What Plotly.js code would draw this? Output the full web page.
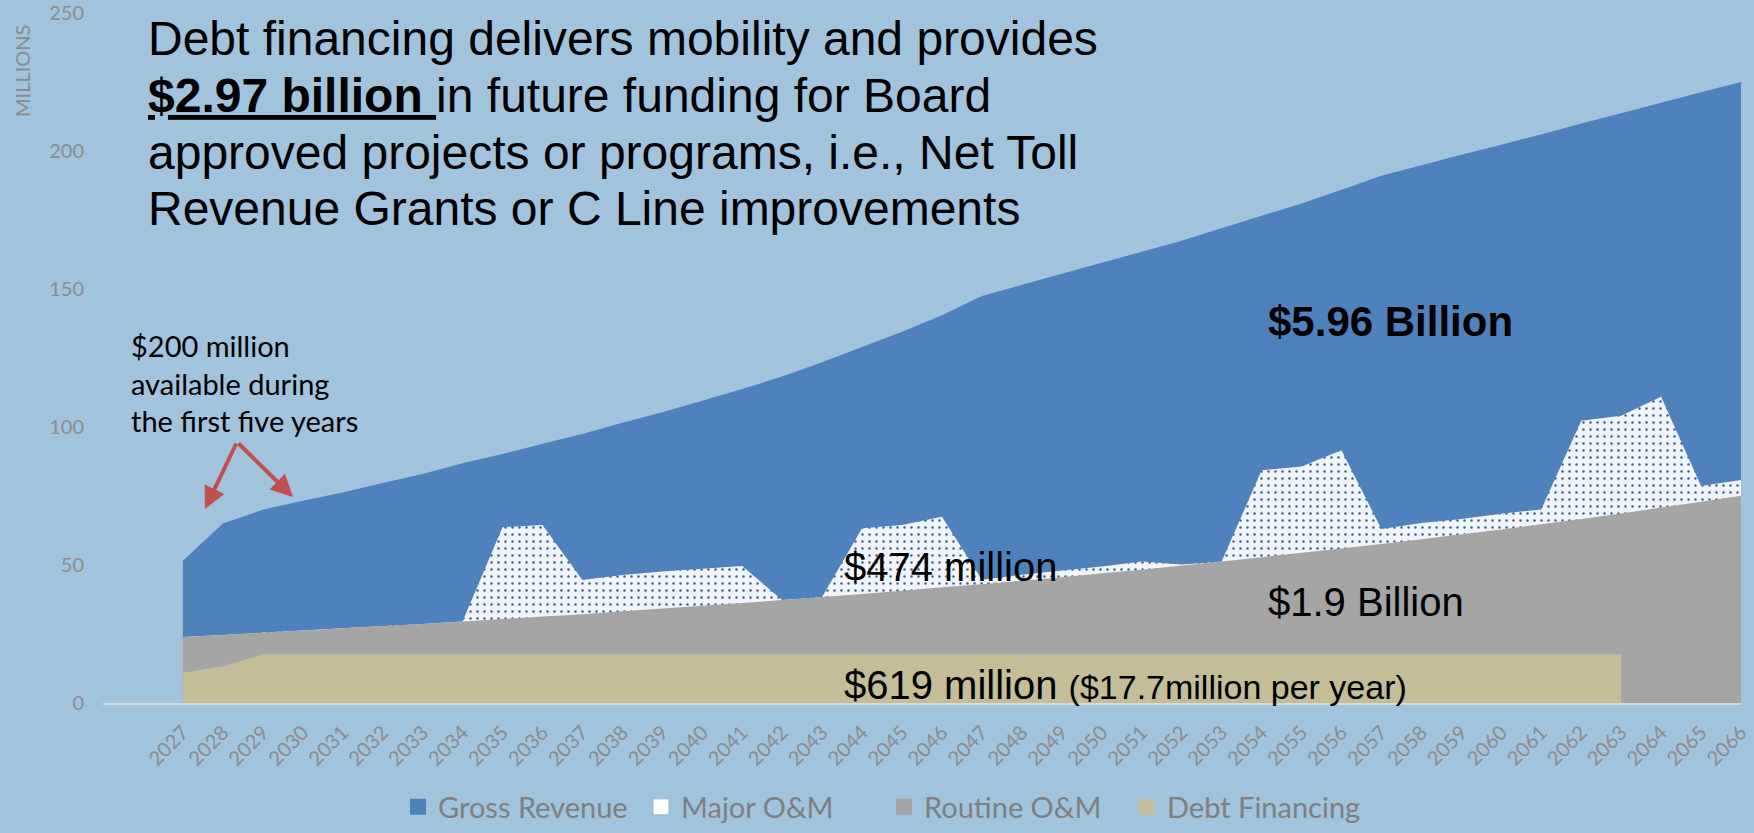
<!DOCTYPE html>
<html><head><meta charset="utf-8">
<script src="https://cdn.plot.ly/plotly-3.0.1.min.js"></script>
<style>html,body{margin:0;padding:0;background:#a1c3dc;} #chart{width:1754px;height:833px;}</style>
</head><body><div id="chart"></div>
<script>
// ---- data (millions) ----
const years = [2027,2028,2029,2030,2031,2032,2033,2034,2035,2036,
               2037,2038,2039,2040,2041,2042,2043,2044,2045,2046,
               2047,2048,2049,2050,2051,2052,2053,2054,2055,2056,
               2057,2058,2059,2060,2061,2062,2063,2064,2065,2066];
const yearLabels = ["2027","2028","2029","2030","2031","2032","2033","2034","2035","2036",
                    "2037","2038","2039","2040","2041","2042","2043","2044","2045","2046",
                    "2047","2048","2049","2050","2051","2052","2053","2054","2055","2056",
                    "2057","2058","2059","2060","2061","2062","2063","2064","2065","2066"];
const grossRevenue = [51.5,65,70,73.3,76.3,79.7,83,86.9,90.2,93.9,
                      97.5,101.5,105.3,109.5,113.8,118.3,123.5,129,134.5,140.5,
                      147.5,151.5,155.5,159.5,163.5,167.5,172,176.5,181,186,
                      191,194.8,198.6,202.3,206,210,213.7,217.5,221.3,225];
const majorOM = [23.9,24.6,25.5,26.3,27.1,27.9,28.6,29.5,63.7,64.5,
                 44.6,46.4,47.6,48.6,49.6,37.3,38.4,63.3,64.5,67.5,
                 44.7,46.5,48,49.5,51.3,50.2,51.3,84.3,85.7,91.6,
                 63,65.2,66.7,68.6,70.1,102.3,104.1,111,78.6,80.8];
const routineOM = [23.9,24.6,25.5,26.3,27.1,27.9,28.6,29.5,30.4,31.3,
                   32.2,33.2,34.2,35.2,36.2,37.3,38.4,39.5,40.7,41.9,
                   43.0,44.3,45.6,47.0,48.3,49.8,51.3,52.8,54.4,56.0,
                   57.6,59.3,61.1,62.9,64.8,66.7,68.7,70.8,72.9,75.1];
const debtFinancing = [11,13.2,17.7,17.7,17.7,17.7,17.7,17.7,17.7,17.7,
                       17.7,17.7,17.7,17.7,17.7,17.7,17.7,17.7,17.7,17.7,
                       17.7,17.7,17.7,17.7,17.7,17.7,17.7,17.7,17.7,17.7,
                       17.7,17.7,17.7,17.7,17.7,17.7,17.7,null,null,null];
const yTicks = [0,50,100,150,200,250];
const seriesNames = ["Gross Revenue","Major O&M","Routine O&M","Debt Financing"];

// ---- geometry helpers (layout placement only) ----
const W=1754,H=833,ML=103,MR=13,MT=13,MB=130;
const PW=W-ML-MR, PH=H-MT-MB;
const X0=2025, X1=2066, Y1=250;
const px=x=>(x-ML)/PW, py=y=>(H-MB-y)/PH;
const dx=x=>X0+(x-ML)/PW*(X1-X0), dy=y=>(H-MB-y)/PH*Y1;

const colors = ["#4f81bd","#ffffff","#a5a5a5","#c4bd97"];
const values = [grossRevenue, majorOM, routineOM, debtFinancing];

const traces = values.map((v,i)=>{
  const t = {type:"scatter", mode:"none", x:years, y:v, name:seriesNames[i],
    fill:"tozeroy", fillcolor:colors[i], showlegend:false, hoverinfo:"skip", legendgroup:"g"+i};
  if(i===1){ t.fillpattern={shape:".", bgcolor:"#f1f5fa", fgcolor:"#3a5f94", size:7, solidity:0.1}; }
  return t;
});
// legend entries
seriesNames.forEach((n,i)=>{
  traces.push({type:"scatter", mode:"markers", x:[null], y:[null], name:n, legendgroup:"g"+i,
    marker:{symbol:"square", size:20, color:colors[i], line:{width:i===1?1:0, color:"#9db4d4"}},
    hoverinfo:"skip", showlegend:true});
});

const arial = "Liberation Sans, Arial, sans-serif";
const titleLines = ["Debt financing delivers mobility and provides",
  "<b><u>$2.97 billion </u></b>in future funding for Board",
  "approved projects or programs, i.e., Net Toll",
  "Revenue Grants or C Line improvements"];
const titleY = [38,95,152,209];
const ann = [];
titleLines.forEach((t,i)=>ann.push({xref:"paper",yref:"paper",x:px(146),y:py(titleY[i]),xanchor:"left",yanchor:"middle",
  text:t, showarrow:false, font:{family:arial,size:48,color:"#000"}}));
ann.push({xref:"paper",yref:"paper",x:px(129),y:py(383),xanchor:"left",yanchor:"middle",align:"left",
  text:"$200 million<br>available during<br>the first five years",showarrow:false,font:{family:"Lato",size:29,color:"#000"}});
[[205,509],[293,497]].forEach(p=>ann.push({xref:"x",yref:"y",axref:"x",ayref:"y",x:dx(p[0]),y:dy(p[1]),ax:dx(237),ay:dy(442),
  text:"",showarrow:true,arrowhead:2,arrowsize:1.1,arrowwidth:4,arrowcolor:"#c0504d",standoff:0,startstandoff:0}));
ann.push({xref:"paper",yref:"paper",x:px(1266),y:py(321),xanchor:"left",yanchor:"middle",text:"<b>$5.96 Billion</b>",showarrow:false,font:{family:arial,size:42,color:"#000"}});
ann.push({xref:"paper",yref:"paper",x:px(842),y:py(567),xanchor:"left",yanchor:"middle",text:"$474 million",showarrow:false,font:{family:arial,size:40,color:"#000"}});
ann.push({xref:"paper",yref:"paper",x:px(1266),y:py(602),xanchor:"left",yanchor:"middle",text:"$1.9 Billion",showarrow:false,font:{family:arial,size:40,color:"#000"}});
ann.push({xref:"paper",yref:"paper",x:px(842),y:py(685),xanchor:"left",yanchor:"middle",text:"$619 million <span style=\"font-size:34px\">($17.7million per year)</span>",showarrow:false,font:{family:arial,size:40,color:"#000"}});
ann.push({xref:"paper",yref:"paper",x:px(22),y:py(71),xanchor:"center",yanchor:"middle",text:"MILLIONS",textangle:-90,showarrow:false,font:{family:"Lato",size:20,color:"#8c8c8c"}});

const layout = {
  width:W, height:H, margin:{l:ML,r:MR,t:MT,b:MB,autoexpand:false},
  paper_bgcolor:"#a1c3dc", plot_bgcolor:"#a1c3dc",
  xaxis:{type:"linear", range:[X0,X1], tickmode:"array", tickvals:years, ticktext:yearLabels, tickangle:-45,
    tickfont:{family:"Lato",size:20,color:"#8c8c8c"}, showgrid:false, zeroline:false, showline:true,
    linecolor:"#d9d9d9", linewidth:2, ticks:"", layer:"below traces", ticklabelstandoff:8, automargin:false, fixedrange:true},
  yaxis:{range:[0,Y1], tickmode:"array", tickvals:yTicks, showgrid:false, zeroline:false, showline:false,
    tickfont:{family:"Lato",size:20,color:"#8c8c8c"}, ticks:"", ticklabelstandoff:18, automargin:false, fixedrange:true},
  showlegend:true,
  legend:{orientation:"h", x:px(398), xanchor:"left", y:py(807), yanchor:"middle", entrywidth:198, entrywidthmode:"pixels",
    font:{family:"Lato",size:29,color:"#7f7f7f"}, bgcolor:"rgba(0,0,0,0)"},
  annotations:ann
};
Plotly.newPlot("chart", traces, layout, {displayModeBar:false, staticPlot:true});
</script></body></html>
